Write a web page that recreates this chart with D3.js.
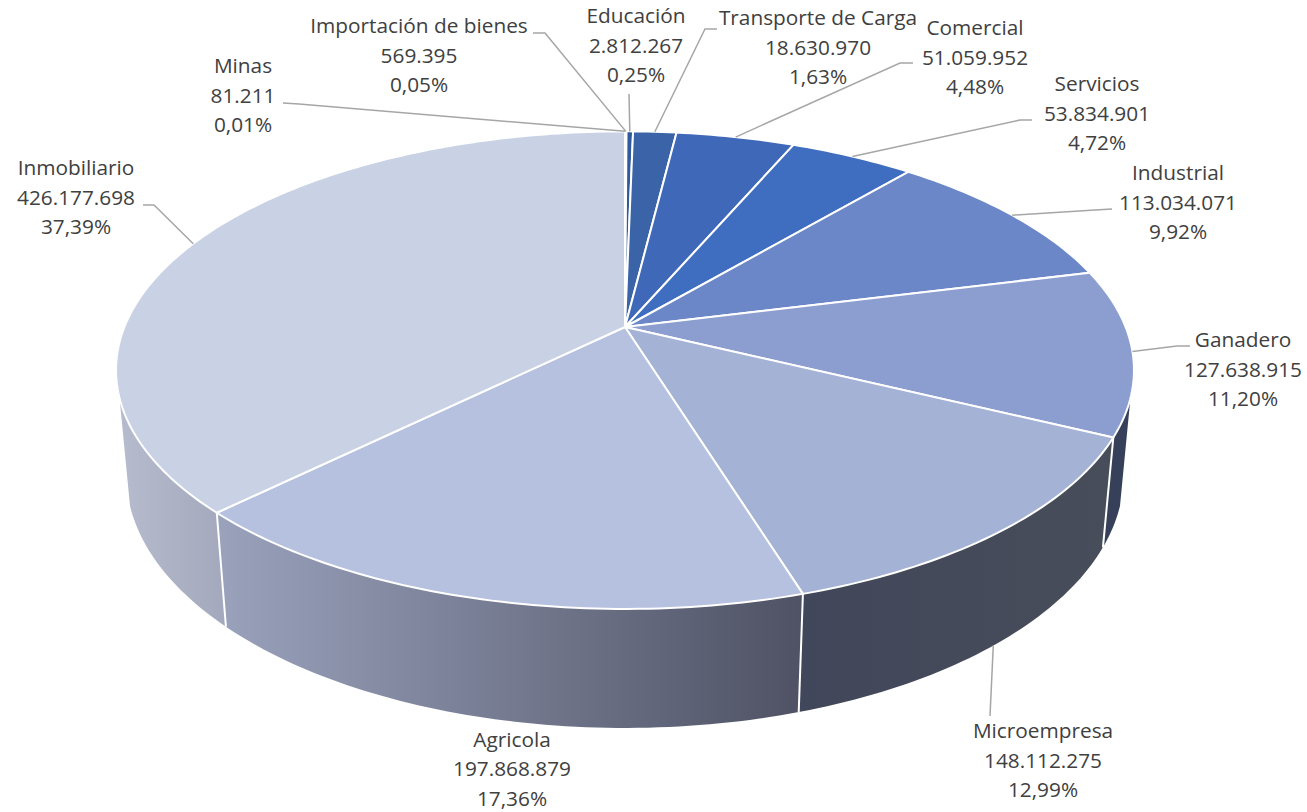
<!DOCTYPE html>
<html lang="es">
<head>
<meta charset="utf-8">
<title>Cartera por sector</title>
<script src="https://cdn.jsdelivr.net/npm/d3@7"></script>
<style>
  body { margin: 0; background: #fff; }
  text { font-family: "Open Sans", sans-serif; font-size: 20.8px; fill: #404040; text-anchor: middle; }
</style>
</head>
<body>
<div id="chart"></div>
<script>
const width = 1307;
const height = 812;

// datos, en el orden de las agujas del reloj desde las 12
const sectores = ["Minas", "Importación de bienes", "Educación", "Transporte de Carga", "Comercial", "Servicios",
  "Industrial", "Ganadero", "Microempresa", "Agricola", "Inmobiliario"];
const valores = [81211, 569395, 2812267, 18630970, 51059952, 53834901,
  113034071, 127638915, 148112275, 197868879, 426177698];

// colores de la cara superior
const colores = ["#2a4d8f", "#2c5193", "#31599d", "#3a63a8", "#3f69b8", "#3f6ec0",
  "#6b87c8", "#8c9ed0", "#a4b2d6", "#b6c0df", "#c9d2e5"];
// degradado del lateral (izquierda, derecha)
const lateral = {
  "Ganadero": ["#364059", "#36405a"],
  "Microempresa": ["#41475a", "#484d5a"],
  "Agricola": ["#9aa2bc", "#4f5264"],
  "Inmobiliario": ["#b6bbcd", "#a3a8bc"],
};

// posición de las etiquetas: centro x, centro y de la primera línea, codo de la guía
const etiquetas = {
  "Minas": { x: 243, y: 66, codo: [[283, 103], [299, 104]] },
  "Importación de bienes": { x: 419, y: 26, codo: [[533, 33], [545, 33]] },
  "Educación": { x: 636, y: 16, codo: [[629, 94]] },
  "Transporte de Carga": { x: 818, y: 18, codo: [[717, 29], [705, 29]] },
  "Comercial": { x: 975, y: 28, codo: [[913, 63], [900, 63]] },
  "Servicios": { x: 1097, y: 84, codo: [[1032, 120], [1020, 120]] },
  "Industrial": { x: 1178, y: 173, codo: [[1112, 209], [1095, 210]] },
  "Ganadero": { x: 1243, y: 340, codo: [[1190, 346], [1177, 346]] },
  "Microempresa": { x: 1043, y: 731, codo: [[990, 716]], base: true },
  "Agricola": { x: 512, y: 739.5, codo: null },
  "Inmobiliario": { x: 76, y: 168, codo: [[143, 205], [154, 205]] },
};

const es = d3.formatLocale({ decimal: ",", thousands: ".", grouping: [3], currency: ["$", ""] });
const fmtValor = es.format(",d");
const fmtPct = es.format(".2%");
const total = d3.sum(valores);

// proyección con perspectiva del disco: (u, v) en el círculo unidad, h = 0 arriba, 1 abajo
const cx = 625, cy = 327, bx = 500.6, by = 231, k = 0.1807, alto = 105.5, m = 0.02;
function proyecta(ang, h) {
  const u = Math.sin(ang), v = -Math.cos(ang);
  const w = 1 - k * v + m * h;
  return [cx + bx * u / w, cy + (by * v + alto * h) / w];
}

const rad = (g) => g * Math.PI / 180;
// parte visible del lateral
const angMin = rad(107), angMax = rad(253);

const pie = d3.pie().sort(null).value((d) => d.valor);
const arcos = pie(sectores.map((s, i) => ({ sector: s, valor: valores[i], color: colores[i] })));

const linea = d3.line();
function muestras(a0, a1, h) {
  const n = Math.max(2, Math.ceil((a1 - a0) / rad(1)));
  return d3.range(n + 1).map((i) => proyecta(a0 + (a1 - a0) * i / n, h));
}

const svg = d3.select("#chart").append("svg")
  .attr("width", width)
  .attr("height", height)
  .style("display", "block");

const defs = svg.append("defs");

// laterales
const gLateral = svg.append("g");
arcos.forEach((d, i) => {
  const a0 = Math.max(d.startAngle, angMin), a1 = Math.min(d.endAngle, angMax);
  if (a1 <= a0) return;
  const arriba = muestras(a0, a1, 0), abajo = muestras(a0, a1, 1).reverse();
  const xs = arriba.concat(abajo).map((p) => p[0]);
  const stops = lateral[d.data.sector];
  const grad = defs.append("linearGradient").attr("id", "lat" + i)
    .attr("gradientUnits", "userSpaceOnUse")
    .attr("x1", d3.min(xs)).attr("x2", d3.max(xs)).attr("y1", 0).attr("y2", 0);
  grad.append("stop").attr("offset", 0).attr("stop-color", stops[0]);
  grad.append("stop").attr("offset", 1).attr("stop-color", stops[1]);
  gLateral.append("path")
    .attr("d", linea(arriba.concat(abajo)) + "Z")
    .attr("fill", "url(#lat" + i + ")");
});

// separaciones blancas del lateral
arcos.forEach((d) => {
  if (d.endAngle > angMin && d.endAngle < angMax) {
    gLateral.append("path")
      .attr("d", linea([proyecta(d.endAngle, 0), proyecta(d.endAngle, 1)]))
      .attr("stroke", "#fff").attr("stroke-width", 2).attr("fill", "none");
  }
});

// caras superiores
svg.append("g").selectAll("path")
  .data(arcos)
  .enter()
  .append("path")
  .attr("d", (d) => linea([[cx, cy]].concat(muestras(d.startAngle, d.endAngle, 0))) + "Z")
  .attr("fill", (d) => d.data.color)
  .attr("stroke", "#fff")
  .attr("stroke-width", 2)
  .attr("stroke-linejoin", "round");

// guías
arcos.forEach((d) => {
  const e = etiquetas[d.data.sector];
  if (!e.codo) return;
  const medio = (d.startAngle + d.endAngle) / 2;
  svg.append("path")
    .attr("d", linea(e.codo.concat([proyecta(medio, e.base ? 1 : 0)])))
    .attr("fill", "none")
    .attr("stroke", "#a6a6a6")
    .attr("stroke-width", 1.5);
});

// etiquetas
const textos = svg.append("g").selectAll("text")
  .data(arcos)
  .enter()
  .append("text")
  .attr("transform", (d) => {
    const e = etiquetas[d.data.sector];
    return "translate(" + e.x + "," + (e.y + 7) + ")";
  });

textos.selectAll("tspan")
  .data((d) => [d.data.sector, fmtValor(d.data.valor), fmtPct(d.data.valor / total)])
  .enter()
  .append("tspan")
  .attr("x", 0)
  .attr("y", (d, i) => i * 29.5)
  .text((d) => d);
</script>
</body>
</html>
